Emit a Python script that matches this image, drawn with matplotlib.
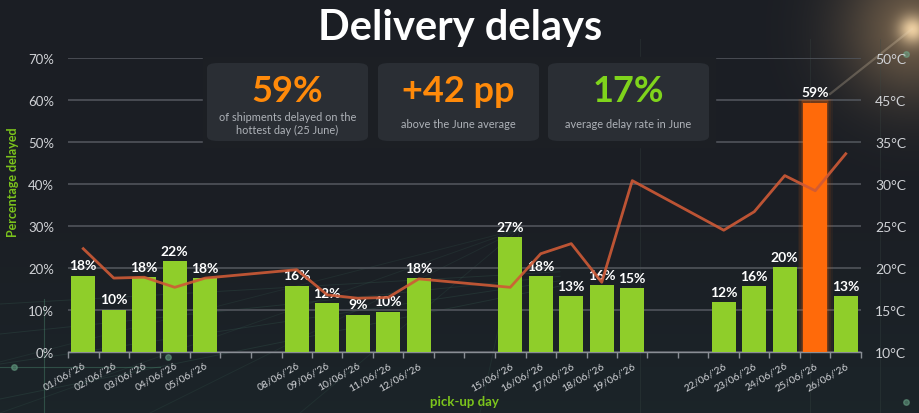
import numpy as np
import matplotlib.pyplot as plt
from matplotlib.patches import FancyBboxPatch, Rectangle

plt.rcParams['font.family'] = ['Lato', 'DejaVu Sans']

# --- data -------------------------------------------------------------
day_numbers = [1, 2, 3, 4, 5, 8, 9, 10, 11, 12, 15, 16, 17, 18, 19, 22, 23, 24, 25, 26]
delay_pct = [18.2, 10.1, 17.9, 21.6, 17.6, 15.8, 11.6, 8.9, 9.6, 17.6,
             27.3, 18.1, 13.4, 16.0, 15.2, 11.9, 15.6, 20.2, 59.4, 13.4]
temp_c = [22.3, 18.8, 18.9, 17.7, 18.8, 19.8, 16.8, 16.4, 16.5, 18.7,
          17.7, 21.7, 22.9, 18.3, 30.4, 24.5, 26.7, 31.0, 29.2, 33.6]
hottest_day = 25
n_slots = 26
pct_ticks = [0, 10, 20, 30, 40, 50, 60, 70]
temp_ticks = [10, 15, 20, 25, 30, 35, 45, 50]
kpi_values = ['59%', '+42 pp', '17%']
kpi_texts = ['of shipments delayed on the\nhottest day (25 June)',
             'above the June average',
             'average delay rate in June']

BG = '#1b1e24'
GREEN = '#8fce2a'
ORANGE = '#ff6a0a'
LINE = '#cf5a36'
LABEL_GREEN = '#7cc41c'

W, H = 920, 414
fig = plt.figure(figsize=(W / 100, H / 100), dpi=100)
fig.patch.set_facecolor(BG)

# --- background: dark base, warm glow top right, faint grid -----------
bg = fig.add_axes([0, 0, 1, 1], zorder=-10)
yy, xx = np.mgrid[0:H, 0:W]
img = np.zeros((H, W, 3))
img[:] = np.array([0x1b, 0x1e, 0x24]) / 255
# slight green tint towards the bottom
img += np.clip((yy - 200) / 214, 0, 1)[..., None] * np.array([0.0, 0.025, 0.02])
r = np.hypot(xx - 912, yy - 30)
img += np.exp(-(r / 70) ** 2)[..., None] * np.array([0.32, 0.24, 0.14])
img += np.exp(-(r / 14) ** 2)[..., None] * np.array([0.5, 0.45, 0.35])
img = np.clip(img, 0, 1)
bg.imshow(img, extent=[0, W, H, 0], aspect='auto')
bg.set_xlim(0, W)
bg.set_ylim(H, 0)
bg.axis('off')
# light ray from the sun
bg.plot([912, 830], [30, 95], color='#e8d6b8', lw=1.6, alpha=0.25)
# faint perspective grid
for y0 in [305, 335, 365, 400]:
    bg.plot([0, 560], [y0, 272 + (y0 - 300) * 0.15], color='#3f6f5e', lw=0.7, alpha=0.22)
for x0 in [-200, 0, 150, 300, 480]:
    bg.plot([x0, 520], [414, 230], color='#3f6f5e', lw=0.7, alpha=0.16)
for x0 in [640, 810, 880]:
    bg.plot([x0, x0], [40, 414], color='#3c4a46', lw=0.7, alpha=0.3)
bg.plot([44, 44], [300, 414], color='#4f8f74', lw=0.8, alpha=0.4)
bg.plot([0, 160], [368, 368], color='#4f8f74', lw=0.8, alpha=0.4)
bg.scatter([14, 168, 906, 906], [368, 358, 55, 403], s=16, color='#6fae8f', alpha=0.5)

# --- main axes --------------------------------------------------------
ax = fig.add_axes([68 / W, 61 / H, 793 / W, 294 / H])
ax.set_facecolor('none')

x = np.array(day_numbers) - 1
colors = [ORANGE if d == hottest_day else GREEN for d in day_numbers]

# glow behind the hottest bar
hx = day_numbers.index(hottest_day)
for k, a in zip([1.45, 1.3, 1.15, 1.05], [0.06, 0.08, 0.12, 0.18]):
    ax.bar(x[hx], delay_pct[hx] + 0.6 * k, width=0.8 * k, color=ORANGE,
           alpha=a, zorder=2, linewidth=0)

ax.bar(x, delay_pct, width=0.8, color=colors, zorder=3, linewidth=0)

for xi, v in zip(x, delay_pct):
    ax.text(xi, v + 1.0, f'{round(v)}%', ha='center', va='bottom',
            color='white', fontsize=10, fontweight='bold', zorder=6)

ax.set_xlim(-0.5, n_slots - 0.5)
ax.set_ylim(0, 70)
ax.set_yticks(pct_ticks)
ax.set_yticklabels([f'{t}%' for t in pct_ticks])
ax.grid(axis='y', color='#50545b', lw=1.2, zorder=0)
ax.set_axisbelow(True)

ax.set_xticks(x)
ax.set_xticklabels([f"{d:02d}/06/'26" for d in day_numbers], rotation=30,
                   ha='right', rotation_mode='anchor')
ax.set_xticks(np.arange(-0.5, n_slots, 1), minor=True)
ax.tick_params(axis='x', which='major', length=0, pad=6, labelsize=7.5,
               labelcolor='#d0d2d6')
ax.tick_params(axis='x', which='minor', length=4, width=1, color='#8a8e95')
ax.tick_params(axis='y', length=0, pad=10, labelsize=9.5, labelcolor='#d0d2d6')
for s in ['top', 'right', 'left']:
    ax.spines[s].set_visible(False)
ax.spines['bottom'].set_color('#8a8e95')
ax.spines['bottom'].set_linewidth(1)

ax.set_ylabel('Percentage delayed', color=LABEL_GREEN, fontsize=9,
              fontweight='bold')
ax.yaxis.set_label_coords(-0.062, 0.58)
ax.set_xlabel('pick-up day', color=LABEL_GREEN, fontsize=9.5,
              fontweight='bold', labelpad=2)

# --- temperature axis (labels sit on the left gridlines) --------------
t_knots = np.array([-100, 10, 35, 45, 50, 200])
p_knots = np.array([-220, 10, 35, 40, 45, 195])


def fwd(t):
    return np.interp(t, t_knots, p_knots)


def inv(p):
    return np.interp(p, p_knots, t_knots)


ax2 = ax.twinx()
ax2.set_yscale('function', functions=(fwd, inv))
ax2.set_ylim(10, 50)
ax2.plot(x, temp_c, color=LINE, lw=2, zorder=5, alpha=0.9)
ax2.set_yticks(temp_ticks)
ax2.set_yticklabels([f'{t}°C' for t in temp_ticks])
ax2.tick_params(axis='y', length=0, pad=10, labelsize=10, labelcolor='#d0d2d6')
for s in ax2.spines.values():
    s.set_visible(False)
ax2.set_zorder(ax.get_zorder() + 1)
ax2.patch.set_visible(False)

# --- title --------------------------------------------------------------
fig.text(0.5, 1 - 28 / H, 'Delivery delays', ha='center', va='center',
         color='white', fontsize=30, fontweight='bold')

# --- KPI cards ----------------------------------------------------------
fig.patches.append(Rectangle((203 / W, 1 - 148 / H), 512 / W, 90 / H,
                             transform=fig.transFigure, color='#1c1f24',
                             zorder=1))
card_left = [207, 378, 548]
kpi_colors = ['#ff8a0a', '#ff8a0a', '#7fd41c']
for cx, val, txt, col in zip(card_left, kpi_values, kpi_texts, kpi_colors):
    fig.patches.append(FancyBboxPatch(
        (cx / W, 1 - 142 / H), 161 / W, 78 / H,
        boxstyle='round,pad=0,rounding_size=0.012', transform=fig.transFigure,
        facecolor='#2a2e34', edgecolor='none', zorder=2))
    mid = (cx + 80.5) / W
    fig.text(mid, 1 - 92 / H, val, ha='center', va='center', color=col,
             fontsize=26, fontweight='bold', zorder=3)
    fig.text(mid, 1 - 124 / H, txt, ha='center', va='center',
             color='#aeb2b8', fontsize=7.9, linespacing=1.25, zorder=3)

fig.savefig('out.png', dpi=100, facecolor=BG)
